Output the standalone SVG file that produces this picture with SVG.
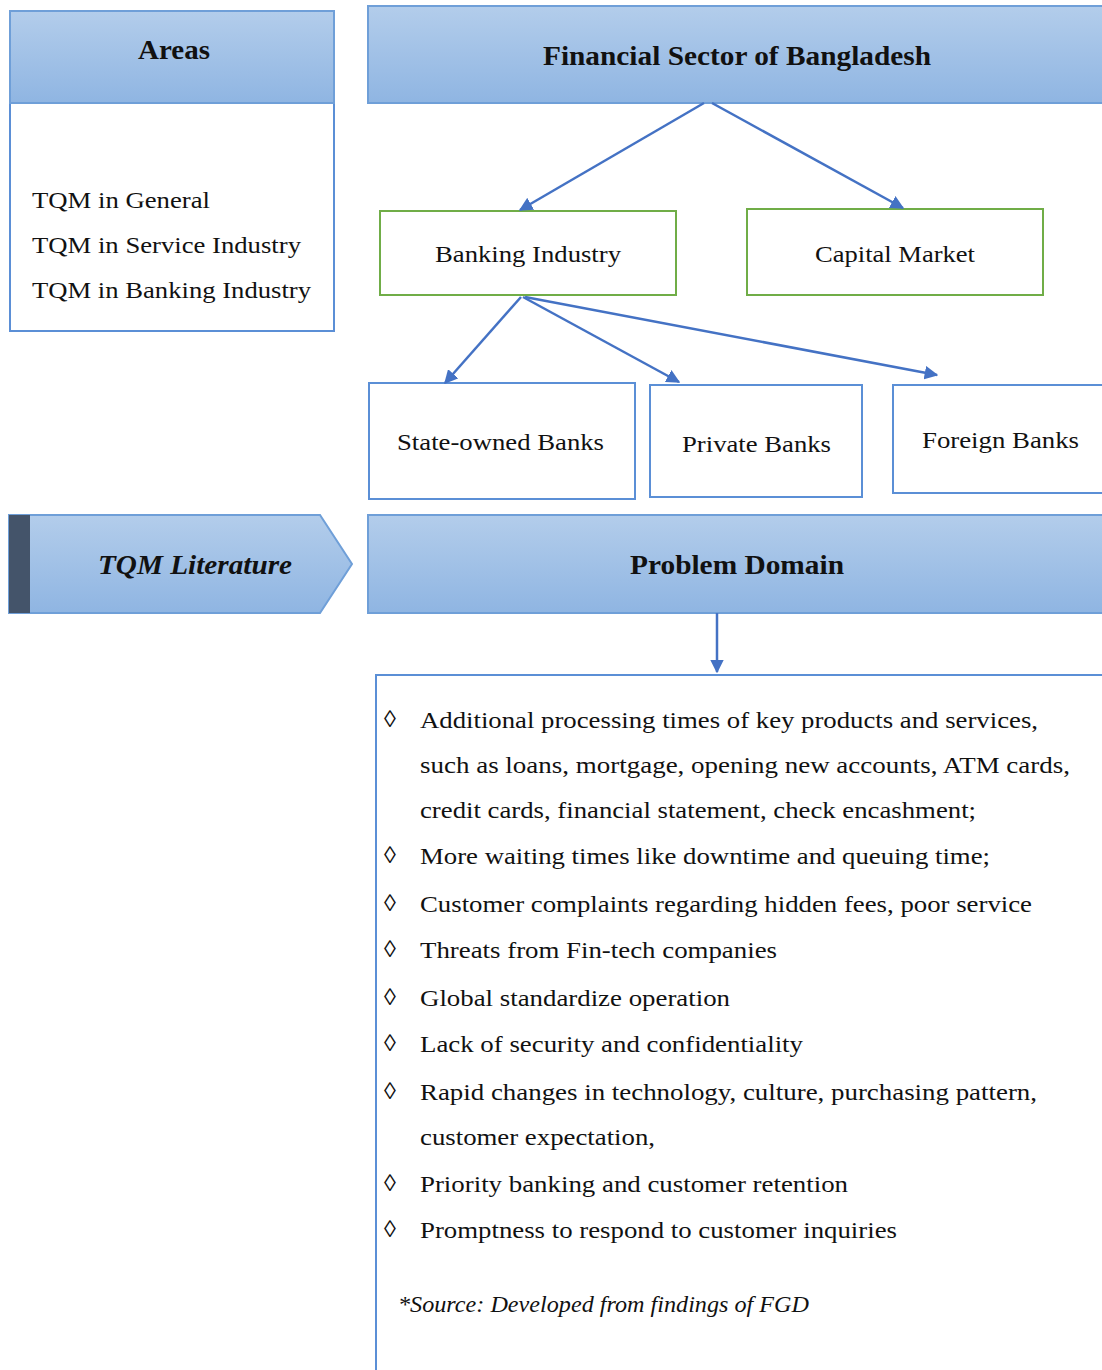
<svg xmlns="http://www.w3.org/2000/svg" width="1102" height="1370" viewBox="0 0 1102 1370">
  <defs>
    <linearGradient id="hdr" x1="0" y1="0" x2="0" y2="1">
      <stop offset="0" stop-color="#B3CDEB"/>
      <stop offset="1" stop-color="#8FB5E2"/>
    </linearGradient>
    <marker id="arr" viewBox="0 0 10 10" refX="9" refY="5" markerWidth="5.5" markerHeight="5.5" orient="auto" markerUnits="strokeWidth">
      <path d="M0,0 L10,5 L0,10 z" fill="#4472C4"/>
    </marker>
    <style>
      .hdr { fill: url(#hdr); stroke: #6F9FD8; stroke-width: 2; }
      .box { fill: #FFFFFF; stroke: #5B8FD6; stroke-width: 2; }
      .gbox { fill: #FFFFFF; stroke: #70AD47; stroke-width: 2; }
      .t { font-family: "Liberation Serif", "Times New Roman", serif; fill: #111111; }
      .h { font-size: 27px; font-weight: bold; }
      .n { font-size: 24px; }
      .c { text-anchor: middle; }
      .conn line { stroke: #4472C4; stroke-width: 2.5; marker-end: url(#arr); }
    </style>
  </defs>

  <!-- Areas -->
  <g id="areas">
    <rect class="box" x="10" y="103" width="324" height="228"/>
    <rect class="hdr" x="10" y="11" width="324" height="92"/>
    <text class="t h c" x="174" y="59" font-size="25" textLength="72" lengthAdjust="spacingAndGlyphs">Areas</text>
    <text class="t n" x="32" y="208" textLength="178" lengthAdjust="spacingAndGlyphs">TQM in General</text>
    <text class="t n" x="32" y="253" textLength="269" lengthAdjust="spacingAndGlyphs">TQM in Service Industry</text>
    <text class="t n" x="32" y="298" textLength="279" lengthAdjust="spacingAndGlyphs">TQM in Banking Industry</text>
  </g>

  <!-- Financial sector header -->
  <g id="financial-sector">
    <rect class="hdr" x="368" y="6" width="740" height="97"/>
    <text class="t h c" x="737" y="65" textLength="388" lengthAdjust="spacingAndGlyphs">Financial Sector of Bangladesh</text>
  </g>

  <g id="banking-industry">
    <rect class="gbox" x="380" y="211" width="296" height="84"/>
    <text class="t n c" x="528" y="262" textLength="186" lengthAdjust="spacingAndGlyphs">Banking Industry</text>
  </g>

  <g id="capital-market">
    <rect class="gbox" x="747" y="209" width="296" height="86"/>
    <text class="t n c" x="895" y="262" textLength="160" lengthAdjust="spacingAndGlyphs">Capital Market</text>
  </g>

  <g id="state-owned-banks">
    <rect class="box" x="369" y="383" width="266" height="116"/>
    <text class="t n c" x="500.5" y="450" textLength="207" lengthAdjust="spacingAndGlyphs">State-owned Banks</text>
  </g>

  <g id="private-banks">
    <rect class="box" x="650" y="385" width="212" height="112"/>
    <text class="t n c" x="756.5" y="452" textLength="149" lengthAdjust="spacingAndGlyphs">Private Banks</text>
  </g>

  <g id="foreign-banks">
    <rect class="box" x="893" y="385" width="215" height="108"/>
    <text class="t n c" x="1000.5" y="448" textLength="157" lengthAdjust="spacingAndGlyphs">Foreign Banks</text>
  </g>

  <!-- TQM literature chevron -->
  <g id="tqm-literature">
    <path d="M9,515 L320,515 L352,564 L320,613 L9,613 Z" fill="url(#hdr)" stroke="#6F9FD8" stroke-width="2"/>
    <rect x="9" y="515" width="21" height="98" fill="#44546A"/>
    <text class="t h c" x="195" y="574" font-style="italic" textLength="194" lengthAdjust="spacingAndGlyphs">TQM Literature</text>
  </g>

  <g id="problem-domain">
    <rect class="hdr" x="368" y="515" width="740" height="98"/>
    <text class="t h c" x="737" y="574" textLength="214" lengthAdjust="spacingAndGlyphs">Problem Domain</text>
  </g>

  <!-- Problem list -->
  <g id="problem-list">
    <rect class="box" x="376" y="675" width="740" height="710"/>
    <g class="t n">
      <text x="384" y="727">◊</text>
      <text x="420" y="728" textLength="618" lengthAdjust="spacingAndGlyphs">Additional processing times of key products and services,</text>
      <text x="420" y="773" textLength="650" lengthAdjust="spacingAndGlyphs">such as loans, mortgage, opening new accounts, ATM cards,</text>
      <text x="420" y="818" textLength="556" lengthAdjust="spacingAndGlyphs">credit cards, financial statement, check encashment;</text>
      <text x="384" y="863">◊</text>
      <text x="420" y="864" textLength="570" lengthAdjust="spacingAndGlyphs">More waiting times like downtime and queuing time;</text>
      <text x="384" y="911">◊</text>
      <text x="420" y="912" textLength="612" lengthAdjust="spacingAndGlyphs">Customer complaints regarding hidden fees, poor service</text>
      <text x="384" y="957">◊</text>
      <text x="420" y="958" textLength="357" lengthAdjust="spacingAndGlyphs">Threats from Fin-tech companies</text>
      <text x="384" y="1005">◊</text>
      <text x="420" y="1006" textLength="310" lengthAdjust="spacingAndGlyphs">Global standardize operation</text>
      <text x="384" y="1051">◊</text>
      <text x="420" y="1052" textLength="383" lengthAdjust="spacingAndGlyphs">Lack of security and confidentiality</text>
      <text x="384" y="1099">◊</text>
      <text x="420" y="1100" textLength="617" lengthAdjust="spacingAndGlyphs">Rapid changes in technology, culture, purchasing pattern,</text>
      <text x="420" y="1145" textLength="235" lengthAdjust="spacingAndGlyphs">customer expectation,</text>
      <text x="384" y="1191">◊</text>
      <text x="420" y="1192" textLength="428" lengthAdjust="spacingAndGlyphs">Priority banking and customer retention</text>
      <text x="384" y="1237">◊</text>
      <text x="420" y="1238" textLength="477" lengthAdjust="spacingAndGlyphs">Promptness to respond to customer inquiries</text>
      <text x="398" y="1312" font-style="italic" textLength="411" lengthAdjust="spacingAndGlyphs">*Source: Developed from findings of FGD</text>
    </g>
  </g>

  <!-- Connectors -->
  <g id="connectors" class="conn">
    <line x1="704" y1="103" x2="520" y2="210"/>
    <line x1="712" y1="103" x2="903" y2="208"/>
    <line x1="521" y1="297" x2="445" y2="383"/>
    <line x1="523" y1="297" x2="679" y2="382"/>
    <line x1="525" y1="297" x2="937" y2="375"/>
    <line x1="717" y1="613" x2="717" y2="672"/>
  </g>
</svg>
